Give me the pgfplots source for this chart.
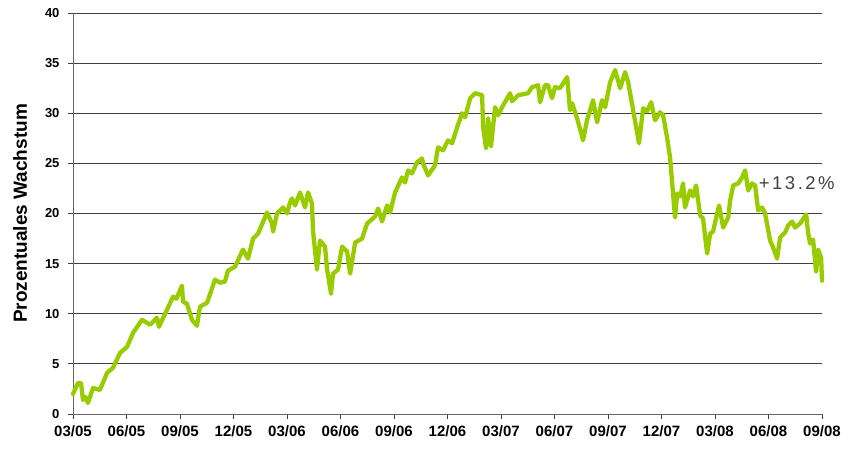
\documentclass[border=0pt]{standalone}
\usepackage{pgfplots}
\pgfplotsset{compat=1.18}
\usepackage{fontspec}
\setmainfont{Liberation Sans}
\definecolor{linegreen}{HTML}{99CC00}
\definecolor{gridgray}{HTML}{404040}
\begin{document}
\begin{tikzpicture}
\useasboundingbox (-73pt,-34pt) rectangle (782pt,414pt);
\begin{axis}[
  scale only axis, width=749pt, height=401pt,
  xmin=0, xmax=42, ymin=0, ymax=40,
  axis x line*=bottom, axis y line*=left,
  xtick={0,3,...,42},
  xticklabels={03/05,06/05,09/05,12/05,03/06,06/06,09/06,12/06,03/07,06/07,09/07,12/07,03/08,06/08,09/08},
  ytick={0,5,...,40},
  ymajorgrids,
  grid style={draw=gridgray, line width=0.9pt},
  tick align=outside, major tick length=5pt,
  tick style={draw=gridgray, line width=0.9pt},
  axis line style={draw=black!60, line width=0.9pt},
  /pgf/number format/assume math mode=true,
  x tick label style={font=\bfseries\fontsize{15}{17}\selectfont, text=black, yshift=-3pt},
  y tick label style={font=\bfseries\fontsize{13}{15}\selectfont, text=black, xshift=-5pt},
  ylabel={Prozentuales Wachstum},
  every axis y label/.style={at={(rel axis cs:0,0.5)}, xshift=-53pt, rotate=90, anchor=center, font=\bfseries\fontsize{19}{21}\selectfont},
  clip=false,
]
\addplot[linegreen, line width=4.3pt, line join=round, line cap=round] coordinates {
(0,2.0) (0.28,3.1) (0.45,3.1) (0.56,1.4) (0.7,1.7) (0.84,1.1) (1.12,2.6) (1.51,2.4) (1.91,4.1) (2.24,4.6) (2.64,6.1) (3.03,6.7) (3.37,8.1) (3.87,9.4) (4.32,8.9) (4.71,9.6) (4.82,8.7) (5.27,10.4) (5.61,11.7) (5.8,11.5) (6.11,12.8) (6.17,11.2) (6.39,11.0) (6.67,9.4) (6.95,8.8) (7.12,10.7) (7.52,11.1) (7.96,13.4) (8.24,13.1) (8.52,13.2) (8.69,14.3) (9.09,14.7) (9.53,16.4) (9.81,15.5) (10.10,17.5) (10.38,18.0) (10.88,20.1) (11.16,19.0) (11.22,18.2) (11.44,20.0) (11.78,20.6) (12.00,20.0) (12.17,21.1) (12.28,21.5) (12.45,20.8) (12.73,22.1) (13.01,20.6) (13.18,22.1) (13.40,21.0) (13.46,18.3) (13.68,14.4) (13.85,17.3) (14.13,16.7) (14.25,14.4) (14.47,12.0) (14.58,14.0) (14.86,14.4) (15.09,16.7) (15.37,16.2) (15.54,14.0) (15.82,17.1) (16.21,17.5) (16.49,19.0) (16.94,19.7) (17.11,20.5) (17.33,19.2) (17.61,20.8) (17.78,20.1) (18.06,22.1) (18.45,23.6) (18.62,23.1) (18.79,24.3) (19.01,24.0) (19.29,25.1) (19.57,25.5) (19.63,25.0) (19.91,23.8) (20.30,24.8) (20.47,26.6) (20.75,26.3) (21.03,27.3) (21.26,27.0) (21.54,28.6) (21.82,30.0) (21.99,29.6) (22.27,31.5) (22.55,32.0) (22.94,31.8) (23.00,28.6) (23.16,26.5) (23.28,29.5) (23.44,26.7) (23.67,30.6) (23.84,29.8) (24.06,30.6) (24.51,32.0) (24.62,31.2) (24.96,31.8) (25.52,32.0) (25.74,32.6) (26.08,32.8) (26.19,31.1) (26.47,32.8) (26.64,32.8) (26.86,31.5) (27.03,32.6) (27.31,32.5) (27.71,33.6) (27.87,30.3) (27.99,31.0) (28.30,29.3) (28.60,27.3) (28.82,29.3) (29.00,30.3) (29.16,31.3) (29.39,29.1) (29.67,31.3) (29.84,30.6) (30.12,33.1) (30.40,34.3) (30.68,32.5) (30.96,34.1) (31.13,33.1) (31.41,30.3) (31.74,27.0) (31.97,30.5) (32.19,30.2) (32.42,31.1) (32.64,29.3) (32.92,30.1) (33.09,29.8) (33.31,27.6) (33.48,25.6) (33.60,23.0) (33.76,19.6) (33.88,22.0) (34.05,21.7) (34.21,23.0) (34.32,20.6) (34.60,22.3) (34.77,21.7) (34.94,22.8) (35.17,19.8) (35.33,19.5) (35.56,16.0) (35.73,18.0) (35.89,18.2) (36.12,20.0) (36.23,20.8) (36.46,18.6) (36.74,19.6) (36.85,21.3) (37.02,22.8) (37.30,23.0) (37.52,23.6) (37.69,24.3) (37.86,22.3) (38.08,23.0) (38.25,22.8) (38.42,20.3) (38.64,20.6) (38.81,20.0) (39.09,17.3) (39.26,16.6) (39.48,15.5) (39.65,17.6) (39.93,18.1) (40.10,18.8) (40.33,19.2) (40.49,18.6) (40.77,19.0) (41.11,19.9) (41.22,18.1) (41.33,17.0) (41.50,17.4) (41.67,14.2) (41.78,16.4) (41.95,15.6) (42,13.3)
};
\node[anchor=west, inner sep=0pt, text=black!75, font=\fontsize{18.5}{20}\selectfont] at (axis cs:38.45,23.0) {+\kern2.5pt1\kern2.5pt3\kern2.5pt.\kern2.5pt2\kern2.5pt\%};
\end{axis}
\end{tikzpicture}
\end{document}
